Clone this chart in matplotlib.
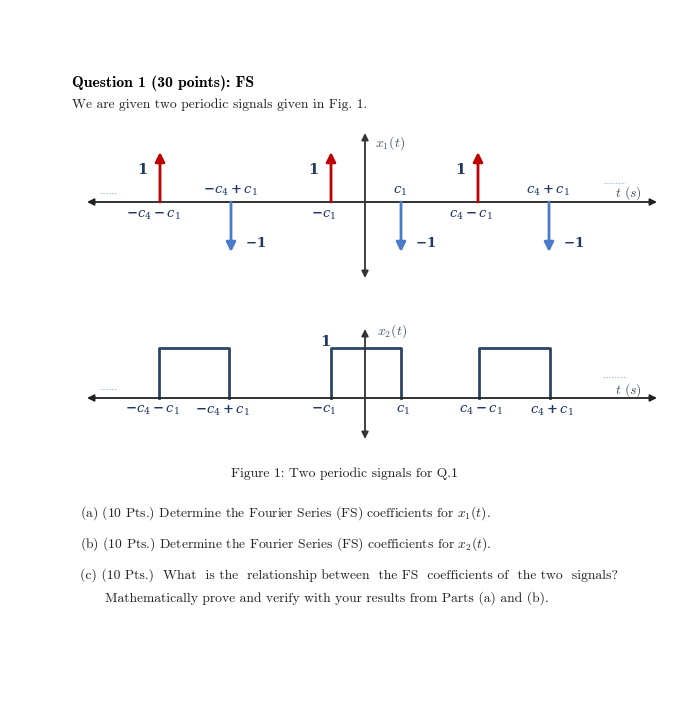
import numpy as np
import matplotlib.pyplot as plt

# impulse train x1(t): positions (drawing units, origin at t=0) and weights
imp_pos = [-205, -134, -34, 36, 113, 184]
imp_amp = [1, -1, 1, -1, 1, -1]
imp_lbl = [r"$\boldsymbol{-c_4-c_1}$", r"$\boldsymbol{-c_4+c_1}$", r"$\boldsymbol{-c_1}$",
           r"$\boldsymbol{c_1}$", r"$\boldsymbol{c_4-c_1}$", r"$\boldsymbol{c_4+c_1}$"]

# rectangular pulse train x2(t): (start, end) of each pulse, height
rect_edges = [(-206, -136), (-34, 36), (114, 185)]
rect_amp = 1
rect_lbl_pos = [-206, -136, -34, 36, 114, 185]

W, H = 689, 724
navy = "#1F3864"
red = "#C00000"
blue = "#4A7BC8"
grey = "#44546A"

plt.rcParams["mathtext.fontset"] = "cm"
fig = plt.figure(figsize=(W / 100, H / 100), dpi=100)


def fx(px):
    return px / W


def fy(py):
    return 1 - py / H


# ---------- header text ----------
fig.text(fx(72), fy(83), "Question 1 (30 points): FS", family="cmb10", fontsize=11.3,
         va="center", ha="left")
fig.text(fx(72), fy(105), "We are given two periodic signals given in Fig. 1.", family="cmr10",
         fontsize=9.8, va="center", ha="left", color="#222222")

lab = dict(color=navy, fontsize=9.5, ha="center", va="center", math_fontfamily="dejavuserif")
ax_col = "#222222"


def axes_arrows(ax, x0, x1, y0, y1):
    ax.annotate("", xy=(x1, 0), xytext=(x0, 0),
                arrowprops=dict(arrowstyle="<|-|>", color=ax_col, lw=1.3, mutation_scale=10,
                                shrinkA=0, shrinkB=0))
    ax.annotate("", xy=(0, y1), xytext=(0, y0),
                arrowprops=dict(arrowstyle="<|-|>", color="#333333", lw=1.3, mutation_scale=10,
                                shrinkA=0, shrinkB=0))


one = dict(color=navy, fontsize=10.5, ha="center", va="center", family="DejaVu Serif",
           fontweight="bold")

# ---------- x1(t) ----------
ax1 = fig.add_axes([fx(80), fy(285), fx(585), (285 - 128) / H])
ax1.set_xlim(-285, 300)
ax1.set_ylim((202 - 285) / 50, (202 - 128) / 50)
ax1.axis("off")
axes_arrows(ax1, -278, 292, (202 - 278) / 50, (202 - 133) / 50)

for p, a, l in zip(imp_pos, imp_amp, imp_lbl):
    c = red if a > 0 else blue
    ax1.annotate("", xy=(p, a), xytext=(p, 0),
                 arrowprops=dict(arrowstyle="-|>", color=c, lw=2, mutation_scale=14,
                                 shrinkA=0, shrinkB=0))
    if a > 0:
        ax1.text(p - 18, 0.64, "1", **one)
        ax1.text(p - 7, -0.27, l, **lab)
    else:
        ax1.text(p + 25, -0.82, r"$\mathbf{-1}$", **lab)
        ax1.text(p - 1, 0.22, l, **lab)

ax1.text(25, 1.18, r"$x_1(t)$", color=grey, fontsize=10, ha="center", va="center")
ax1.text(263, 0.18, r"$t\ (s)$", color=grey, fontsize=10, ha="center", va="center")
ax1.plot([-265, -248], [0.18, 0.18], color="#8FAADC", lw=0.8, ls=":")
ax1.plot([239, 260], [0.38, 0.38], color="#8FAADC", lw=0.8, ls=":")

# ---------- x2(t) ----------
ax2 = fig.add_axes([fx(80), fy(445), fx(585), (445 - 320) / H])
ax2.set_xlim(-285, 300)
ax2.set_ylim((398 - 445) / 50, (398 - 320) / 50)
ax2.axis("off")
axes_arrows(ax2, -278, 292, (398 - 439) / 50, (398 - 329) / 50)

for s, e in rect_edges:
    ax2.plot([s, s, e, e], [0, rect_amp, rect_amp, 0], color="#2E4467", lw=2)

for p, l in zip(rect_lbl_pos, imp_lbl):
    ax2.text(p - 7 if p < 0 else p + 2, -0.25, l, **lab)

ax2.text(-40, 1.12, "1", **one)
ax2.text(27, 1.33, r"$x_2(t)$", color=grey, fontsize=10, ha="center", va="center")
ax2.text(263, 0.16, r"$t\ (s)$", color=grey, fontsize=10, ha="center", va="center")
ax2.plot([-265, -248], [0.18, 0.18], color="#8FAADC", lw=0.8, ls=":")
ax2.plot([238, 260], [0.42, 0.42], color="#8FAADC", lw=0.8, ls=":")

# ---------- caption and questions ----------
fig.text(fx(344), fy(474), "Figure 1: Two periodic signals for Q.1", family="cmr10",
         fontsize=9.8, ha="center", va="center", color="#222222")
qs = [
    (80, 513, r"(a) (10 Pts.) Determine the Fourier Series (FS) coefficients for $x_1(t)$."),
    (80, 544, r"(b) (10 Pts.) Determine the Fourier Series (FS) coefficients for $x_2(t)$."),
    (80, 575, "(c) (10 Pts.)  What  is the  relationship between  the FS  coefficients of  the two  signals?"),
    (105, 598, "Mathematically prove and verify with your results from Parts (a) and (b)."),
]
for x, y, t in qs:
    fig.text(fx(x), fy(y), t, family="cmr10", fontsize=9.8, ha="left", va="center",
             color="#222222")

fig.savefig("out.png", dpi=100, facecolor="white")
